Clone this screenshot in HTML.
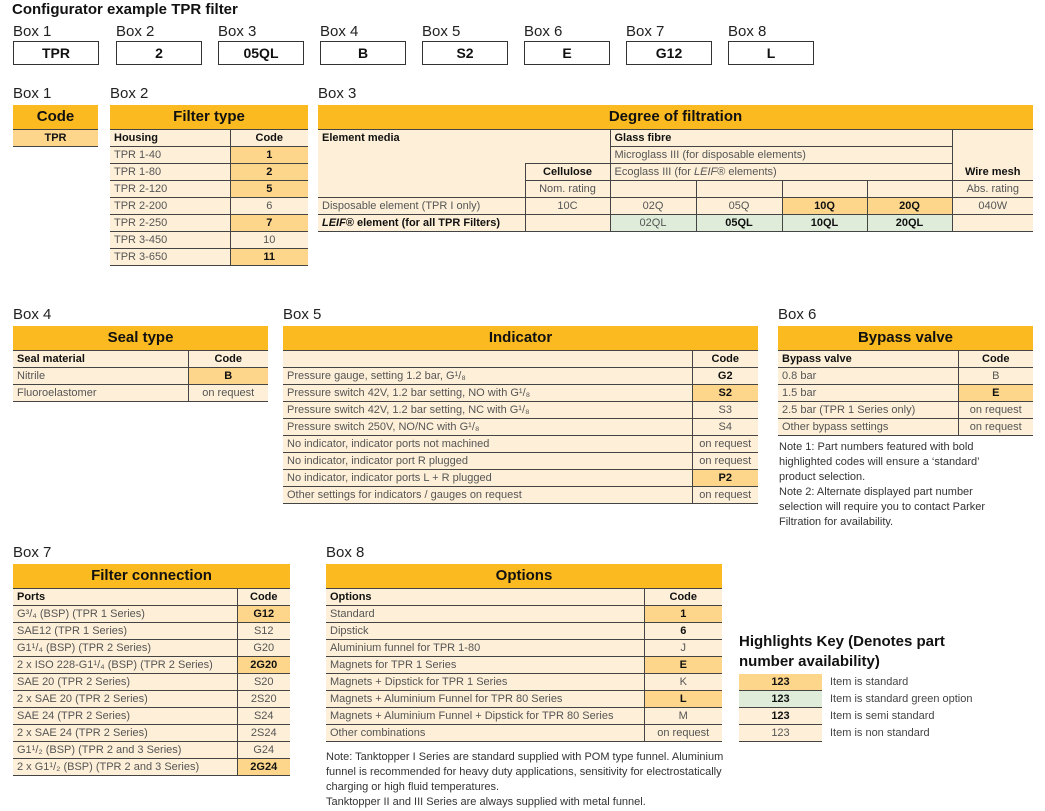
<!DOCTYPE html>
<html><head><meta charset="utf-8"><style>
body{margin:0;width:1045px;height:811px;background:#fff;font-family:"Liberation Sans",sans-serif;position:relative;overflow:hidden;color:#555}
.a{position:absolute}
.lbl{font-size:15px;color:#222}
.bx{position:absolute;top:41px;width:84px;height:22px;border:1px solid #333;text-align:center;font:bold 14px/22px "Liberation Sans",sans-serif;color:#111}
table{position:absolute;border-collapse:collapse;table-layout:fixed;font-size:11px}
td{height:16px;padding:0 4px;border-bottom:1px solid #444;background:#fef0d8;white-space:nowrap;overflow:hidden;line-height:16px}
td.h{background:#fbba1f;font:bold 15px/24px "Liberation Sans",sans-serif;color:#111;text-align:center;height:24px;border-bottom:1px solid #444}
.c{text-align:center}
.b{font-weight:bold;color:#111}
.o{background:#fdd68c}
.g{background:#deecd9}
.vr{border-right:1px solid #444}
.note{font-size:11px;color:#333;line-height:15px}
</style></head><body>
<div class="a" style="left:12px;top:1px;font:bold 15px 'Liberation Sans',sans-serif;color:#111">Configurator example TPR filter</div>
<div class="a lbl" style="left:13px;top:23px">Box 1</div><div class="a lbl" style="left:116px;top:23px">Box 2</div><div class="a lbl" style="left:218px;top:23px">Box 3</div><div class="a lbl" style="left:320px;top:23px">Box 4</div><div class="a lbl" style="left:422px;top:23px">Box 5</div><div class="a lbl" style="left:524px;top:23px">Box 6</div><div class="a lbl" style="left:626px;top:23px">Box 7</div><div class="a lbl" style="left:728px;top:23px">Box 8</div>
<div class="bx" style="left:13px">TPR</div><div class="bx" style="left:116px">2</div><div class="bx" style="left:218px">05QL</div><div class="bx" style="left:320px">B</div><div class="bx" style="left:422px">S2</div><div class="bx" style="left:524px">E</div><div class="bx" style="left:626px">G12</div><div class="bx" style="left:728px">L</div>

<div class="a lbl" style="left:13px;top:85px">Box 1</div><div class="a lbl" style="left:110px;top:85px">Box 2</div><div class="a lbl" style="left:318px;top:85px">Box 3</div>
<table style="left:13px;top:105px;width:85px"><tr><td class="h">Code</td></tr><tr><td class="c b o">TPR</td></tr></table>
<table style="left:110px;top:105px;width:198px"><col style="width:120px"><col>
<tr><td class="h" colspan="2">Filter type</td></tr>
<tr><td class="b vr">Housing</td><td class="c b">Code</td></tr>
<tr><td class="vr">TPR 1-40</td><td class="c b o">1</td></tr>
<tr><td class="vr">TPR 1-80</td><td class="c b o">2</td></tr>
<tr><td class="vr">TPR 2-120</td><td class="c b o">5</td></tr>
<tr><td class="vr">TPR 2-200</td><td class="c">6</td></tr>
<tr><td class="vr">TPR 2-250</td><td class="c b o">7</td></tr>
<tr><td class="vr">TPR 3-450</td><td class="c">10</td></tr>
<tr><td class="vr">TPR 3-650</td><td class="c b o">11</td></tr></table>

<table style="left:318px;top:105px;width:715px"><col style="width:207px"><col style="width:85px"><col style="width:86px"><col style="width:86px"><col style="width:85px"><col style="width:85px"><col>
<tr><td class="h" colspan="7">Degree of filtration</td></tr>
<tr><td rowspan="4" class="b" style="vertical-align:top">Element media</td><td rowspan="2" style="border-bottom:none"></td><td colspan="4" class="b" style="border-left:1px solid #444;border-right:1px solid #444">Glass fibre</td><td rowspan="2" style="border-bottom:none"></td></tr>
<tr><td colspan="4" style="border-left:1px solid #444;border-right:1px solid #444">Microglass III (for disposable elements)</td></tr>
<tr><td class="c b" style="border-left:1px solid #444;border-top:1px solid #444">Cellulose</td><td colspan="4" style="border-left:1px solid #444;border-right:1px solid #444">Ecoglass III (for <i>LEIF</i>® elements)</td><td class="c b">Wire mesh</td></tr>
<tr><td class="c vr" style="border-left:1px solid #444">Nom. rating</td><td class="vr"></td><td class="vr"></td><td class="vr"></td><td class="vr"></td><td class="c">Abs. rating</td></tr>
<tr><td>Disposable element (TPR I only)</td><td class="c vr" style="border-left:1px solid #444">10C</td><td class="c vr">02Q</td><td class="c vr">05Q</td><td class="c b o vr">10Q</td><td class="c b o vr">20Q</td><td class="c">040W</td></tr>
<tr><td class="b"><i>LEIF</i>® element (for all TPR Filters)</td><td class="vr" style="border-left:1px solid #444"></td><td class="c g vr">02QL</td><td class="c b g vr">05QL</td><td class="c b g vr">10QL</td><td class="c b g vr">20QL</td><td></td></tr></table>

<div class="a lbl" style="left:13px;top:306px">Box 4</div><div class="a lbl" style="left:283px;top:306px">Box 5</div><div class="a lbl" style="left:778px;top:306px">Box 6</div>
<table style="left:13px;top:326px;width:255px"><col style="width:175px"><col>
<tr><td class="h" colspan="2">Seal type</td></tr>
<tr><td class="b vr">Seal material</td><td class="c b">Code</td></tr>
<tr><td class="vr">Nitrile</td><td class="c b o">B</td></tr>
<tr><td class="vr">Fluoroelastomer</td><td class="c">on request</td></tr></table>
<table style="left:283px;top:326px;width:475px"><col style="width:409px"><col>
<tr><td class="h" colspan="2">Indicator</td></tr>
<tr><td class="vr"></td><td class="c b">Code</td></tr>
<tr><td class="vr">Pressure gauge, setting 1.2 bar, G¹/₈</td><td class="c b">G2</td></tr>
<tr><td class="vr">Pressure switch 42V, 1.2 bar setting, NO with G¹/₈</td><td class="c b o">S2</td></tr>
<tr><td class="vr">Pressure switch 42V, 1.2 bar setting, NC with G¹/₈</td><td class="c">S3</td></tr>
<tr><td class="vr">Pressure switch 250V, NO/NC with G¹/₈</td><td class="c">S4</td></tr>
<tr><td class="vr">No indicator, indicator ports not machined</td><td class="c">on request</td></tr>
<tr><td class="vr">No indicator, indicator port R plugged</td><td class="c">on request</td></tr>
<tr><td class="vr">No indicator, indicator ports L + R plugged</td><td class="c b o">P2</td></tr>
<tr><td class="vr">Other settings for indicators / gauges on request</td><td class="c">on request</td></tr></table>
<table style="left:778px;top:326px;width:255px"><col style="width:180px"><col>
<tr><td class="h" colspan="2">Bypass valve</td></tr>
<tr><td class="b vr">Bypass valve</td><td class="c b">Code</td></tr>
<tr><td class="vr">0.8 bar</td><td class="c">B</td></tr>
<tr><td class="vr">1.5 bar</td><td class="c b o">E</td></tr>
<tr><td class="vr">2.5 bar (TPR 1 Series only)</td><td class="c">on request</td></tr>
<tr><td class="vr">Other bypass settings</td><td class="c">on request</td></tr></table>
<div class="a note" style="left:779px;top:440px;width:235px">Note 1: Part numbers featured with bold highlighted codes will ensure a ‘standard’ product selection.<br>Note 2: Alternate displayed part number selection will require you to contact Parker Filtration for availability.</div>

<div class="a lbl" style="left:13px;top:544px">Box 7</div><div class="a lbl" style="left:326px;top:544px">Box 8</div>
<table style="left:13px;top:564px;width:277px"><col style="width:224px"><col>
<tr><td class="h" colspan="2">Filter connection</td></tr>
<tr><td class="b vr">Ports</td><td class="c b">Code</td></tr>
<tr><td class="vr">G³/₄ (BSP) (TPR 1 Series)</td><td class="c b o">G12</td></tr>
<tr><td class="vr">SAE12 (TPR 1 Series)</td><td class="c">S12</td></tr>
<tr><td class="vr">G1¹/₄ (BSP) (TPR 2 Series)</td><td class="c">G20</td></tr>
<tr><td class="vr">2 x ISO 228-G1¹/₄ (BSP) (TPR 2 Series)</td><td class="c b o">2G20</td></tr>
<tr><td class="vr">SAE 20 (TPR 2 Series)</td><td class="c">S20</td></tr>
<tr><td class="vr">2 x SAE 20 (TPR 2 Series)</td><td class="c">2S20</td></tr>
<tr><td class="vr">SAE 24 (TPR 2 Series)</td><td class="c">S24</td></tr>
<tr><td class="vr">2 x SAE 24 (TPR 2 Series)</td><td class="c">2S24</td></tr>
<tr><td class="vr">G1¹/₂ (BSP) (TPR 2 and 3 Series)</td><td class="c">G24</td></tr>
<tr><td class="vr">2 x G1¹/₂ (BSP) (TPR 2 and 3 Series)</td><td class="c b o">2G24</td></tr></table>
<table style="left:326px;top:564px;width:396px"><col style="width:318px"><col>
<tr><td class="h" colspan="2">Options</td></tr>
<tr><td class="b vr">Options</td><td class="c b">Code</td></tr>
<tr><td class="vr">Standard</td><td class="c b o">1</td></tr>
<tr><td class="vr">Dipstick</td><td class="c b">6</td></tr>
<tr><td class="vr">Aluminium funnel for TPR 1-80</td><td class="c">J</td></tr>
<tr><td class="vr">Magnets for TPR 1 Series</td><td class="c b o">E</td></tr>
<tr><td class="vr">Magnets + Dipstick for TPR 1 Series</td><td class="c">K</td></tr>
<tr><td class="vr">Magnets + Aluminium Funnel for TPR 80 Series</td><td class="c b o">L</td></tr>
<tr><td class="vr">Magnets + Aluminium Funnel + Dipstick for TPR 80 Series</td><td class="c">M</td></tr>
<tr><td class="vr">Other combinations</td><td class="c">on request</td></tr></table>
<div class="a note" style="left:326px;top:750px;width:410px">Note: Tanktopper I Series are standard supplied with POM type funnel. Aluminium funnel is recommended for heavy duty applications, sensitivity for electrostatically charging or high fluid temperatures.<br>Tanktopper II and III Series are always supplied with metal funnel.</div>

<div class="a" style="left:739px;top:632px;font:bold 15px/20px 'Liberation Sans',sans-serif;color:#111">Highlights Key (Denotes part<br>number availability)</div>
<table style="left:739px;top:674px;width:83px"><tr><td class="c b o">123</td></tr><tr><td class="c b g">123</td></tr><tr><td class="c b">123</td></tr><tr><td class="c">123</td></tr></table>
<div class="a" style="left:830px;top:674px;font-size:11px;line-height:17px;color:#444">Item is standard<br>Item is standard green option<br>Item is semi standard<br>Item is non standard</div>
</body></html>
